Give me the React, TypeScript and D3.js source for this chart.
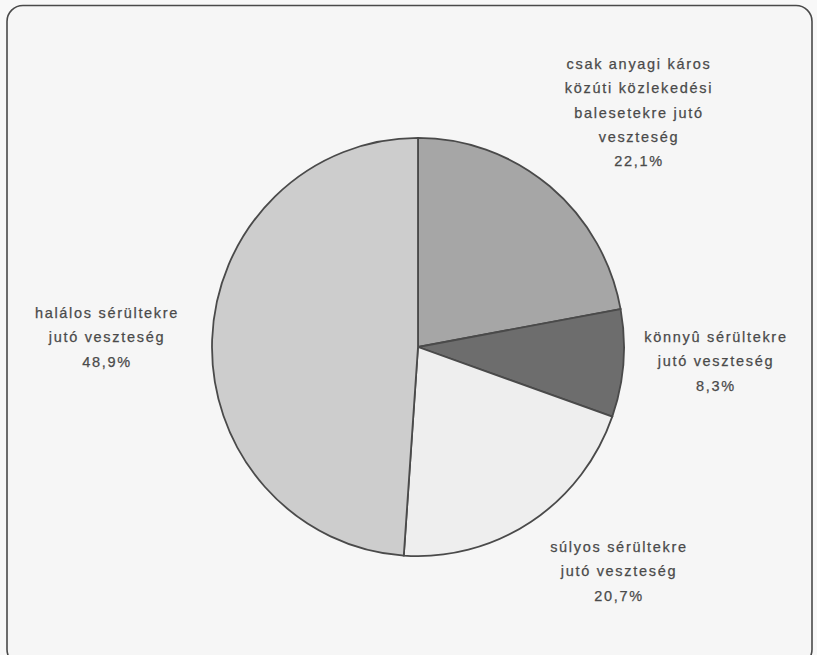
import React from "react";
import * as d3 from "d3";

const categories = [
  "csak anyagi káros közúti közlekedési balesetekre jutó veszteség",
  "könnyű sérültekre jutó veszteség",
  "súlyos sérültekre jutó veszteség",
  "halálos sérültekre jutó veszteség",
];
const values = [22.1, 8.3, 20.7, 48.9];
const valueLabels = ["22,1%", "8,3%", "20,7%", "48,9%"];
const labelLines = [
  ["csak anyagi káros", "közúti közlekedési", "balesetekre jutó", "veszteség"],
  ["könnyû sérültekre", "jutó veszteség"],
  ["súlyos sérültekre", "jutó veszteség"],
  ["halálos sérültekre", "jutó veszteség"],
];
const colors = ["#a6a6a6", "#6d6d6d", "#eeeeee", "#cdcdcd"];
const labelPos = [
  [639, 69],
  [716, 342],
  [619, 552],
  [107, 318],
];

export default function App() {
  const W = 817, H = 655;
  const cx = 418, cy = 347, r = 206;
  const pie = d3.pie<number>().sort(null).value((d) => d)(values);
  const arc = d3.arc<d3.PieArcDatum<number>>().innerRadius(0).outerRadius(r);
  const lh = 24.3;
  return (
    <svg width={W} height={H} style={{ position: "absolute", left: 0, top: 0 }}>
      <rect x={0} y={0} width={W} height={H} fill="#f8f8f8" />
      <rect x={7} y={5.5} width={805} height={660} rx={16} fill="#f6f6f6" stroke="#4a4a4a" strokeWidth={1.6} />
      <g transform={`translate(${cx},${cy}) scale(1,1.015)`}>
        {pie.map((p, i) => (
          <path key={categories[i]} d={arc(p) || ""} fill={colors[i]} stroke="#4a4a4a" strokeWidth={1.8} />
        ))}
      </g>
      {labelLines.map((lines, i) => (
        <text
          key={i}
          x={labelPos[i][0]}
          y={labelPos[i][1]}
          textAnchor="middle"
          fontFamily="Liberation Sans, Arial, sans-serif"
          fontSize={14.5}
          letterSpacing={1.7}
          fill="#4a4a4a"
          stroke="#4a4a4a"
          strokeWidth={0.25}
        >
          {[...lines, valueLabels[i]].map((l, j) => (
            <tspan key={j} x={labelPos[i][0]} dy={j === 0 ? 0 : lh}>
              {l}
            </tspan>
          ))}
        </text>
      ))}
    </svg>
  );
}
